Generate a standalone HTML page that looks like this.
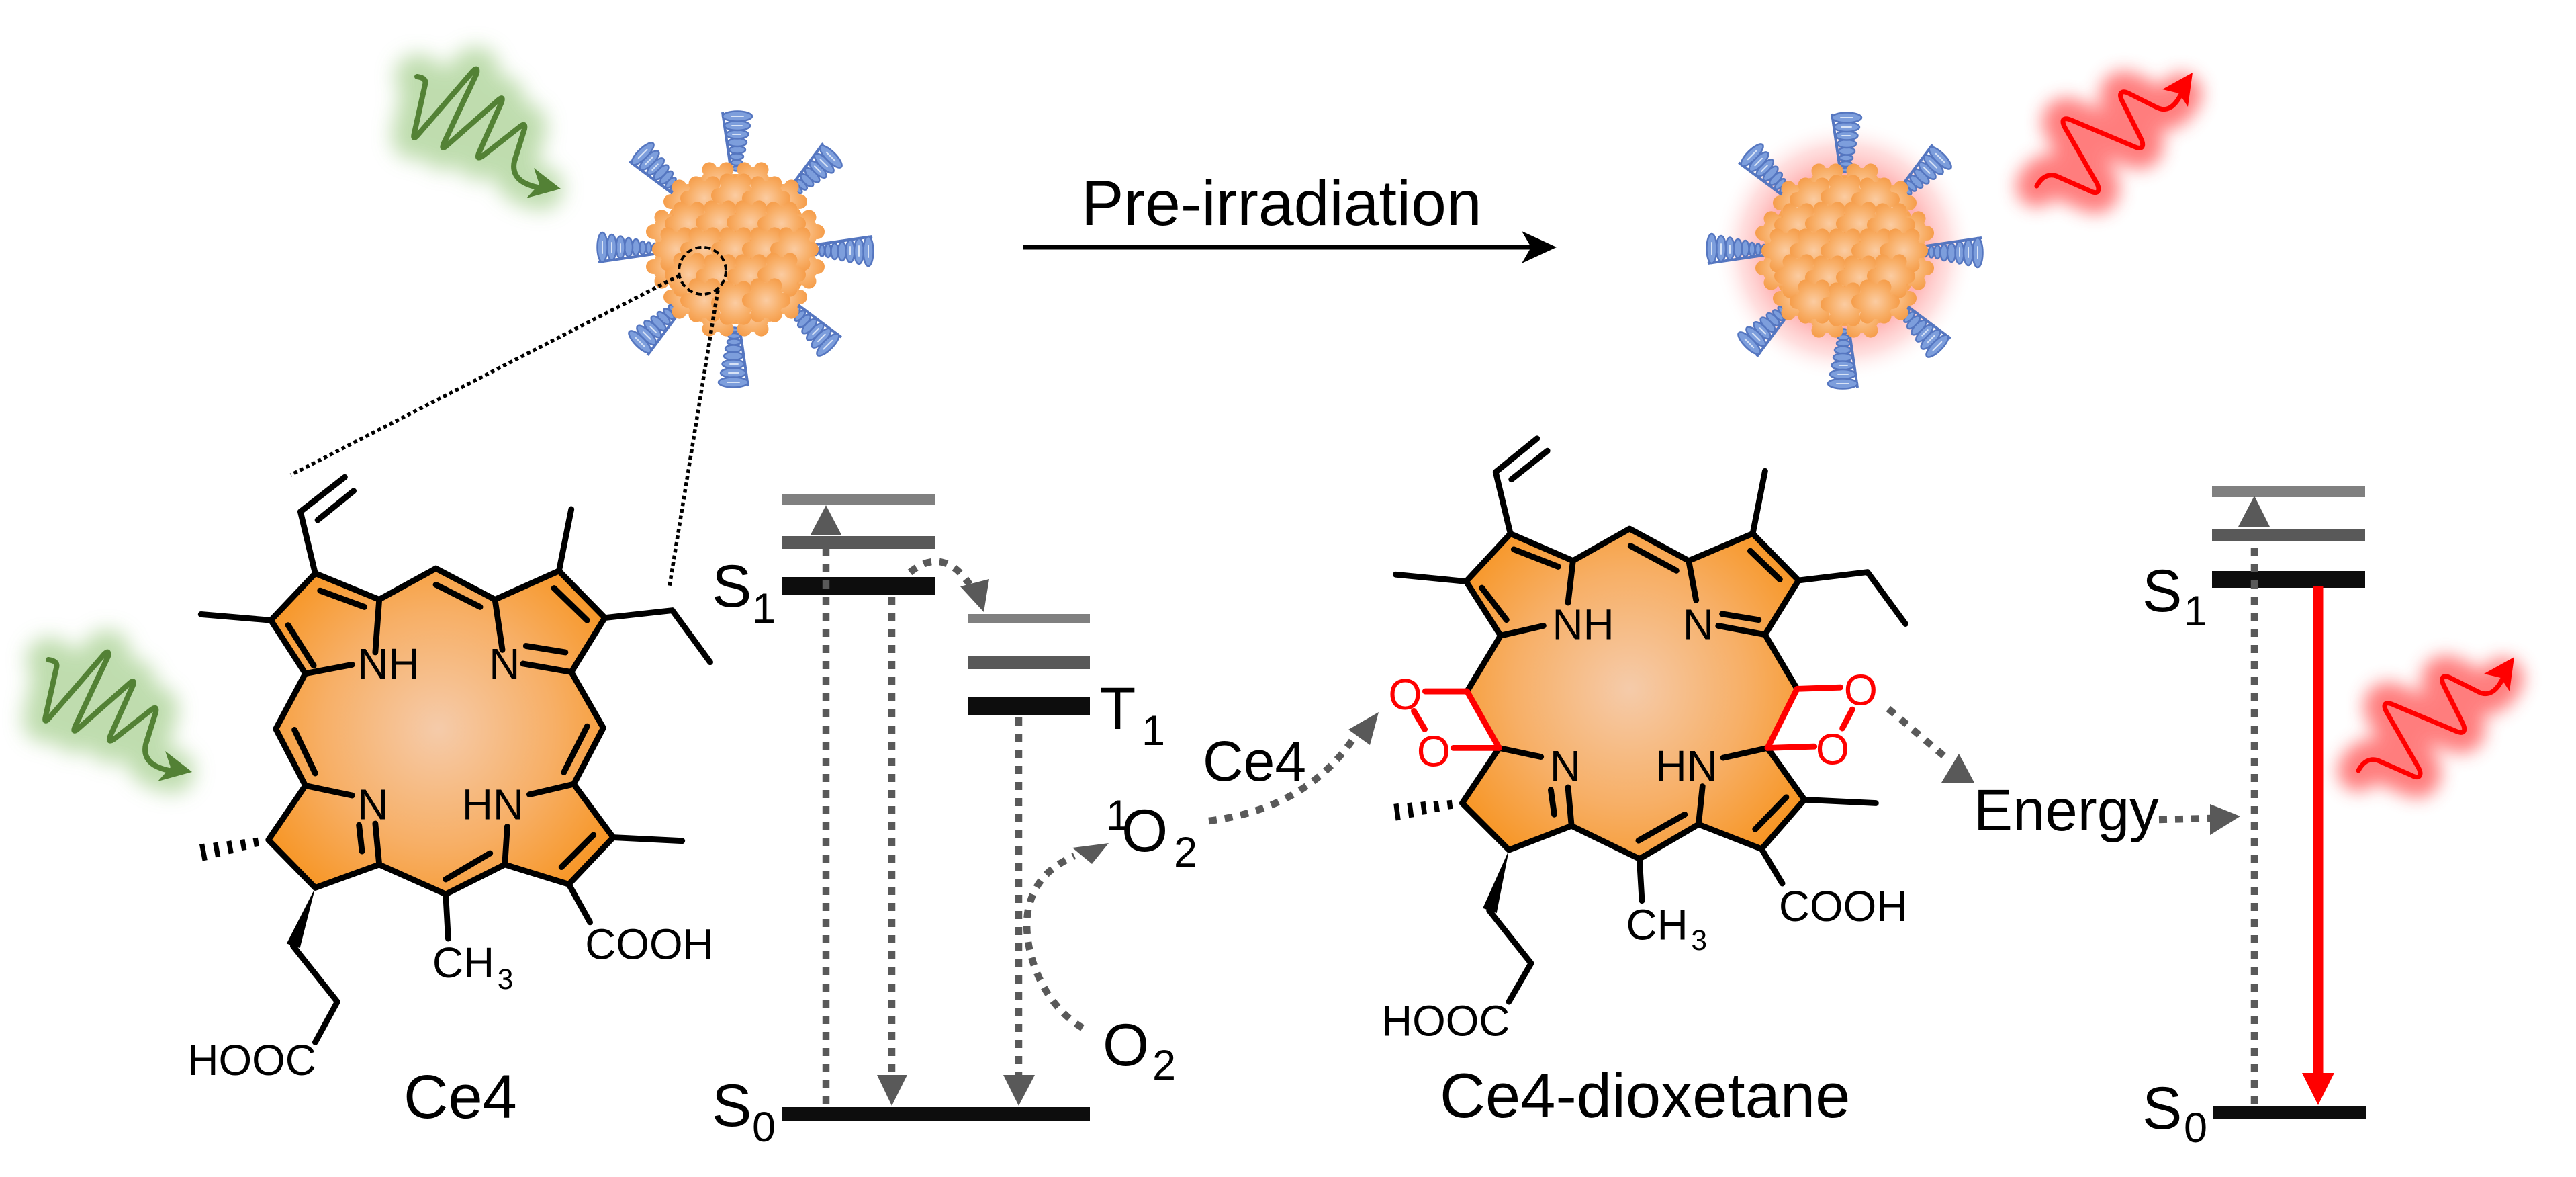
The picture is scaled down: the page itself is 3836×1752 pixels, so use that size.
<!DOCTYPE html>
<html><head><meta charset="utf-8"><style>html,body{margin:0;padding:0;background:#fff;}svg{display:block;}text{font-family:"Liberation Sans",Arial,sans-serif;}</style></head>
<body>
<svg width="3836" height="1752" viewBox="0 0 3836 1752" xmlns="http://www.w3.org/2000/svg" xmlns:xlink="http://www.w3.org/1999/xlink">
<defs>
  <filter id="blurG" x="-50%" y="-50%" width="200%" height="200%"><feGaussianBlur stdDeviation="15"/></filter>
  <filter id="blurR" x="-50%" y="-50%" width="200%" height="200%"><feGaussianBlur stdDeviation="13"/></filter>
  <radialGradient id="og1" gradientUnits="userSpaceOnUse" cx="890" cy="660" r="430">
    <stop offset="0" stop-color="#F5CBAA"/><stop offset="0.55" stop-color="#F7AF66"/><stop offset="1" stop-color="#F7931E"/>
  </radialGradient>
  <radialGradient id="og2" gradientUnits="userSpaceOnUse" cx="650" cy="580" r="430">
    <stop offset="0" stop-color="#F5CBAA"/><stop offset="0.55" stop-color="#F7AF66"/><stop offset="1" stop-color="#F7931E"/>
  </radialGradient>
  <radialGradient id="bg" gradientUnits="userSpaceOnUse" cx="0" cy="0" r="38">
    <stop offset="0" stop-color="#FBCCA2"/><stop offset="0.6" stop-color="#F8AE66"/><stop offset="1" stop-color="#F59A45"/>
  </radialGradient>
  <radialGradient id="rglow" gradientUnits="userSpaceOnUse" cx="0" cy="0" r="195">
    <stop offset="0.6" stop-color="#FF7A7A" stop-opacity="0.6"/><stop offset="0.8" stop-color="#FFA5A5" stop-opacity="0.35"/><stop offset="1" stop-color="#FFFFFF" stop-opacity="0"/>
  </radialGradient>
  <g id="blob">
    <circle r="26" fill="url(#bg)"/>
    <circle cx="25" cy="0" r="11" fill="url(#bg)"/>
    <circle cx="12.5" cy="21.6" r="11" fill="url(#bg)"/>
    <circle cx="-12.5" cy="21.6" r="11" fill="url(#bg)"/>
    <circle cx="-25" cy="0" r="11" fill="url(#bg)"/>
    <circle cx="-12.5" cy="-21.6" r="11" fill="url(#bg)"/>
    <circle cx="12.5" cy="-21.6" r="11" fill="url(#bg)"/>
  </g>
  <g id="hx">
    <path d="M-6,-114 L-19,-204" stroke="#5576C0" stroke-width="4" fill="none"/>
    <g fill="#7D9EDC" stroke="#5576C0" stroke-width="2.5">
      <ellipse cx="2" cy="-120" rx="7" ry="3.5"/>
      <ellipse cx="2" cy="-129" rx="8.5" ry="4"/>
      <ellipse cx="2" cy="-138" rx="10" ry="4.5"/>
      <ellipse cx="3" cy="-148" rx="12" ry="5.5"/>
      <ellipse cx="3" cy="-159" rx="14" ry="6"/>
      <ellipse cx="3" cy="-171" rx="16.5" ry="6.5"/>
      <ellipse cx="3" cy="-184" rx="19" ry="7"/>
      <ellipse cx="3" cy="-198" rx="22" ry="7.5"/>
    </g>
    <g stroke="#D8E3F6" stroke-width="2" stroke-linecap="round">
      <line x1="-4" y1="-171" x2="8" y2="-171"/>
      <line x1="-5" y1="-184" x2="10" y2="-184"/>
      <line x1="-6" y1="-198" x2="12" y2="-198"/>
    </g>
  </g>
  <g id="np">
    <use xlink:href="#hx" transform="rotate(0)"/>
    <use xlink:href="#hx" transform="rotate(45)"/>
    <use xlink:href="#hx" transform="rotate(90)"/>
    <use xlink:href="#hx" transform="rotate(135)"/>
    <use xlink:href="#hx" transform="rotate(180)"/>
    <use xlink:href="#hx" transform="rotate(225)"/>
    <use xlink:href="#hx" transform="rotate(270)"/>
    <use xlink:href="#hx" transform="rotate(315)"/>
    <circle r="112" fill="#F7A352"/>
    <use xlink:href="#blob" x="97" y="26"/><use xlink:href="#blob" x="71" y="71"/><use xlink:href="#blob" x="26" y="97"/>
    <use xlink:href="#blob" x="-26" y="97"/><use xlink:href="#blob" x="-71" y="71"/><use xlink:href="#blob" x="-97" y="26"/>
    <use xlink:href="#blob" x="-97" y="-26"/><use xlink:href="#blob" x="-71" y="-71"/><use xlink:href="#blob" x="-26" y="-97"/>
    <use xlink:href="#blob" x="26" y="-97"/><use xlink:href="#blob" x="71" y="-71"/><use xlink:href="#blob" x="97" y="-26"/>
    <use xlink:href="#blob" x="-46" y="-76"/><use xlink:href="#blob" x="0" y="-80"/><use xlink:href="#blob" x="46" y="-76"/>
    <use xlink:href="#blob" x="-69" y="-38"/><use xlink:href="#blob" x="-23" y="-40"/><use xlink:href="#blob" x="23" y="-40"/><use xlink:href="#blob" x="69" y="-38"/>
    <use xlink:href="#blob" x="-88" y="0"/><use xlink:href="#blob" x="-46" y="0"/><use xlink:href="#blob" x="0" y="0"/><use xlink:href="#blob" x="46" y="0"/><use xlink:href="#blob" x="88" y="0"/>
    <use xlink:href="#blob" x="-69" y="38"/><use xlink:href="#blob" x="-23" y="40"/><use xlink:href="#blob" x="23" y="40"/><use xlink:href="#blob" x="69" y="38"/>
    <use xlink:href="#blob" x="-46" y="76"/><use xlink:href="#blob" x="0" y="80"/><use xlink:href="#blob" x="46" y="76"/>
  </g>
  <path id="gw" fill="none" d="M621,114 Q636,116 633,126 L617,198 Q614,210 622,201 L704,106 Q712,98 710,109 L661,213 Q656,225 666,216 L742,149 Q750,142 747,152 L713,228 Q709,239 719,232 L775,188 Q783,182 781,192 L766,240 Q759,272 806,280"/>
  <path id="rw" fill="none" d="M3033,277 C3040,264 3050,258 3062,262 L3112,284 C3125,291 3128,283 3122,272 L3075,190 C3068,177 3074,174 3085,179 L3180,219 C3193,224 3192,214 3188,206 L3160,150 C3154,138 3160,134 3170,139 L3212,160 C3226,167 3238,160 3248,140"/>
  <g id="gwave">
    <use xlink:href="#gw" stroke="#B4D7A0" stroke-width="66" stroke-linecap="round" stroke-linejoin="round" filter="url(#blurG)" opacity="0.85"/>
    <use xlink:href="#gw" stroke="#538135" stroke-width="8" stroke-linecap="round" stroke-linejoin="round"/>
    <polygon points="835,281 795,250 803,274 784,295" fill="#538135"/>
  </g>
  <g id="rwave">
    <use xlink:href="#rw" stroke="#FF7070" stroke-width="62" stroke-linecap="round" stroke-linejoin="round" filter="url(#blurR)" opacity="0.9"/>
    <use xlink:href="#rw" stroke="#FF0000" stroke-width="7" stroke-linecap="round" stroke-linejoin="round"/>
    <polygon points="3265,108 3220,133 3245,139 3258,159" fill="#FF0000"/>
  </g>
</defs>

<!-- light waves -->
<use xlink:href="#gwave"/>
<use xlink:href="#gwave" transform="translate(-549,868)"/>
<use xlink:href="#rwave"/>
<use xlink:href="#rwave" transform="translate(479,870)"/>

<!-- nanoparticles -->
<use xlink:href="#np" transform="translate(1095,371)"/>
<g transform="translate(2747,373)"><circle r="195" fill="url(#rglow)"/></g>
<use xlink:href="#np" transform="translate(2747,373)"/>

<!-- zoom circle and dotted lines -->
<circle cx="1046" cy="403" r="35" fill="none" stroke="#000" stroke-width="4" stroke-dasharray="9 5"/>
<line x1="1012" y1="410" x2="433" y2="707" stroke="#000" stroke-width="5.5" stroke-dasharray="5.5 4.5"/>
<line x1="1069" y1="432" x2="997" y2="872" stroke="#000" stroke-width="5.5" stroke-dasharray="5.5 4.5"/>

<!-- pre-irradiation arrow -->
<text x="1610" y="335" font-size="95" fill="#000">Pre-irradiation</text>
<line x1="1524" y1="368" x2="2290" y2="368" stroke="#000" stroke-width="7"/>
<polygon points="2318,368 2266,344 2280,368 2266,392" fill="#000"/>

<!-- Ce4 molecule -->
<g transform="translate(0,600) scale(0.7334,0.7347)">
  <polygon fill="url(#og1)" points="640,345 770,398 885,335 1005,398 1135,340 1228,435 1160,545 1225,658 1165,772 1245,880 1155,975 1025,935 905,995 770,935 640,982 545,885 620,775 560,660 620,548 550,440"/>
  <g stroke="#000" stroke-width="12" stroke-linecap="round" stroke-linejoin="round" fill="none">
    <polyline points="550,440 640,345 770,398 885,335 1005,398 1135,340 1228,435 1160,545 1225,658 1165,772 1245,880 1155,975 1025,935 905,995 770,935 640,982 545,885 620,775 560,660 620,548 550,440"/>
    <line x1="770" y1="398" x2="762" y2="505"/>
    <line x1="620" y1="548" x2="715" y2="530"/>
    <line x1="650" y1="380" x2="740" y2="413"/>
    <line x1="585" y1="450" x2="637" y2="532"/>
    <polyline points="640,345 610,220 700,150"/>
    <line x1="645" y1="237" x2="718" y2="178"/>
    <line x1="550" y1="440" x2="408" y2="428"/>
    <line x1="885" y1="368" x2="975" y2="413"/>
    <line x1="1005" y1="398" x2="1020" y2="500"/>
    <line x1="1135" y1="340" x2="1160" y2="215"/>
    <line x1="1125" y1="375" x2="1192" y2="440"/>
    <polyline points="1228,435 1365,420 1442,525"/>
    <line x1="1160" y1="545" x2="1062" y2="528"/>
    <line x1="1148" y1="505" x2="1068" y2="492"/>
    <line x1="1192" y1="655" x2="1145" y2="748"/>
    <line x1="1165" y1="772" x2="1075" y2="793"/>
    <line x1="1245" y1="880" x2="1385" y2="887"/>
    <line x1="1205" y1="875" x2="1140" y2="940"/>
    <line x1="1155" y1="975" x2="1198" y2="1052"/>
    <line x1="1025" y1="935" x2="1030" y2="858"/>
    <line x1="905" y1="965" x2="995" y2="912"/>
    <line x1="905" y1="995" x2="910" y2="1085"/>
    <line x1="770" y1="935" x2="762" y2="852"/>
    <line x1="735" y1="908" x2="729" y2="855"/>
    <line x1="620" y1="775" x2="715" y2="795"/>
    <line x1="598" y1="662" x2="640" y2="750"/>
    <polyline points="595,1100 685,1213 640,1295"/>
  </g>
  <polygon points="640,982 609,1104 582,1095" fill="#000"/>
  <g stroke="#000" stroke-width="10">
    <line x1="518.4" y1="881.2" x2="521.6" y2="898.8"/>
    <line x1="492" y1="884.2" x2="496" y2="905.8"/>
    <line x1="464.6" y1="887.2" x2="469.4" y2="912.8"/>
    <line x1="437.3" y1="890.3" x2="442.7" y2="919.7"/>
    <line x1="409.9" y1="893.3" x2="416.1" y2="926.7"/>
  </g>
  <g font-size="87" fill="#000">
    <text x="726" y="558">NH</text>
    <text x="993" y="558">N</text>
    <text x="726" y="843">N</text>
    <text x="938" y="843">HN</text>
    <text x="878" y="1164">CH</text><text x="1010" y="1187" font-size="58">3</text>
    <text x="1188" y="1126">COOH</text>
    <text x="381" y="1361">HOOC</text>
  </g>
</g>
<text x="601" y="1664" font-size="92" fill="#000">Ce4</text>

<!-- Left energy diagram -->
<rect x="1165" y="736" width="228" height="15" fill="#808080"/>
<rect x="1165" y="798" width="228" height="19" fill="#595959"/>
<rect x="1165" y="859" width="228" height="26" fill="#0D0D0D"/>
<rect x="1442" y="914" width="181" height="14" fill="#808080"/>
<rect x="1442" y="977" width="181" height="19" fill="#595959"/>
<rect x="1442" y="1037" width="181" height="27" fill="#0D0D0D"/>
<rect x="1165" y="1648" width="458" height="20" fill="#0D0D0D"/>
<g stroke="#595959" stroke-width="10.5" stroke-dasharray="12 12" fill="none">
  <line x1="1230" y1="1644" x2="1230" y2="800"/>
  <line x1="1328" y1="888" x2="1328" y2="1602"/>
  <line x1="1517" y1="1068" x2="1517" y2="1602"/>
  <path d="M1355,852 Q1404,812 1444,870"/>
  <path d="M1612,1530 C1545,1490 1520,1400 1532,1350 C1542,1310 1565,1290 1600,1274"/>
  <path d="M1800,1222 C1880,1212 1960,1180 2015,1100"/>
  <line x1="2812" y1="1055" x2="2898" y2="1128"/>
  <line x1="3215" y1="1220" x2="3292" y2="1218"/>
</g>
<g fill="#595959">
  <polygon points="1230,752 1207,796 1253,796"/>
  <polygon points="1306,1600 1351,1600 1328,1646"/>
  <polygon points="1494,1600 1541,1600 1517,1646"/>
  <polygon points="1465,911 1430,873 1473,862"/>
  <polygon points="1651,1255 1597,1262 1626,1286"/>
  <polygon points="2053,1060 2008,1086 2040,1109"/>
  <polygon points="2940,1165 2891,1165 2917,1122"/>
  <polygon points="3336,1215 3291,1197 3291,1243"/>
</g>
<g fill="#000">
  <text x="1060" y="903" font-size="89">S</text><text x="1120" y="927" font-size="63">1</text>
  <text x="1060" y="1676" font-size="89">S</text><text x="1120" y="1699" font-size="63">0</text>
  <text x="1637" y="1085" font-size="89">T</text><text x="1700" y="1109" font-size="63">1</text>
  <text x="1647" y="1235" font-size="63">1</text><text x="1670" y="1267" font-size="89">O</text><text x="1748" y="1290" font-size="63">2</text>
  <text x="1642" y="1586" font-size="89">O</text><text x="1716" y="1607" font-size="63">2</text>
  <text x="1791" y="1162" font-size="84">Ce4</text>
  <text x="2939" y="1236" font-size="87">Energy</text>
</g>

<!-- Ce4-dioxetane molecule -->
<g transform="translate(1950,600) scale(0.7334)">
  <polygon fill="url(#og2)" points="408,265 535,320 650,255 770,320 900,265 993,360 925,470 990,580 930,700 1005,805 918,905 790,855 670,925 532,858 405,907 310,812 385,700 320,585 388,472 318,362"/>
  <g stroke="#000" stroke-width="12" stroke-linecap="round" stroke-linejoin="round" fill="none">
    <polyline points="388,472 318,362 408,265 535,320 650,255 770,320 900,265 993,360 925,470 990,580"/>
    <polyline points="930,700 1005,805 918,905 790,855 670,925 532,858 405,907 310,812 385,700"/>
    <line x1="320" y1="585" x2="388" y2="472"/>
    <line x1="415" y1="297" x2="505" y2="332"/>
    <line x1="535" y1="320" x2="525" y2="405"/>
    <line x1="350" y1="375" x2="400" y2="440"/>
    <line x1="388" y1="472" x2="475" y2="452"/>
    <polyline points="408,265 378,140 462,72"/>
    <line x1="410" y1="155" x2="483" y2="97"/>
    <line x1="318" y1="362" x2="175" y2="348"/>
    <line x1="652" y1="290" x2="745" y2="340"/>
    <line x1="770" y1="320" x2="785" y2="400"/>
    <line x1="900" y1="265" x2="925" y2="138"/>
    <line x1="895" y1="300" x2="955" y2="358"/>
    <polyline points="993,360 1133,343 1210,448"/>
    <line x1="925" y1="470" x2="830" y2="452"/>
    <line x1="912" y1="440" x2="838" y2="428"/>
    <line x1="930" y1="700" x2="840" y2="720"/>
    <line x1="1005" y1="805" x2="1150" y2="812"/>
    <line x1="968" y1="800" x2="905" y2="865"/>
    <line x1="918" y1="905" x2="960" y2="975"/>
    <line x1="790" y1="855" x2="798" y2="778"/>
    <line x1="762" y1="835" x2="668" y2="888"/>
    <line x1="670" y1="925" x2="675" y2="1010"/>
    <line x1="532" y1="858" x2="525" y2="780"/>
    <line x1="497" y1="835" x2="490" y2="785"/>
    <line x1="385" y1="700" x2="470" y2="718"/>
    <polyline points="365,1030 450,1137 405,1215"/>
  </g>
  <g stroke="#FF0000" stroke-width="12" stroke-linecap="round" fill="none">
    <line x1="320" y1="585" x2="235" y2="585"/>
    <line x1="320" y1="585" x2="385" y2="700"/>
    <line x1="385" y1="700" x2="292" y2="700"/>
    <line x1="212" y1="625" x2="234" y2="662"/>
    <line x1="990" y1="580" x2="1078" y2="577"/>
    <line x1="990" y1="580" x2="930" y2="700"/>
    <line x1="930" y1="700" x2="1025" y2="697"/>
    <line x1="1102" y1="622" x2="1082" y2="660"/>
  </g>
  <polygon points="405,907 380,1035 352,1025" fill="#000"/>
  <g stroke="#000" stroke-width="10">
    <line x1="283.8" y1="806.1" x2="286.2" y2="823.9"/>
    <line x1="256.5" y1="808.1" x2="259.5" y2="829.9"/>
    <line x1="230.3" y1="809.1" x2="233.7" y2="834.9"/>
    <line x1="203" y1="811.1" x2="207" y2="840.9"/>
    <line x1="175.8" y1="813.2" x2="180.2" y2="846.8"/>
  </g>
  <g font-size="87" fill="#000">
    <text x="493" y="479">NH</text>
    <text x="758" y="479">N</text>
    <text x="488" y="766">N</text>
    <text x="703" y="766">HN</text>
    <text x="643" y="1089">CH</text><text x="775" y="1110" font-size="58">3</text>
    <text x="953" y="1051">COOH</text>
    <text x="146" y="1284">HOOC</text>
  </g>
  <g font-size="88" fill="#FF0000">
    <text x="160" y="622">O</text>
    <text x="218" y="737">O</text>
    <text x="1085" y="613">O</text>
    <text x="1028" y="733">O</text>
  </g>
</g>
<text x="2144" y="1663" font-size="94" fill="#000">Ce4-dioxetane</text>

<!-- Right energy diagram -->
<rect x="3294" y="724" width="228" height="16" fill="#808080"/>
<rect x="3294" y="787" width="228" height="19" fill="#595959"/>
<rect x="3294" y="850" width="228" height="25" fill="#0D0D0D"/>
<rect x="3296" y="1646" width="228" height="20" fill="#0D0D0D"/>
<line x1="3357" y1="1644" x2="3357" y2="808" stroke="#595959" stroke-width="10.5" stroke-dasharray="12 12"/>
<polygon points="3357,738 3333,784 3380,784" fill="#595959"/>
<line x1="3452" y1="872" x2="3452" y2="1600" stroke="#FF0000" stroke-width="15"/>
<polygon points="3428,1597 3476,1597 3452,1645" fill="#FF0000"/>
<g fill="#000">
  <text x="3190" y="910" font-size="89">S</text><text x="3252" y="931" font-size="63">1</text>
  <text x="3190" y="1680" font-size="89">S</text><text x="3252" y="1700" font-size="63">0</text>
</g>
</svg>
</body></html>
